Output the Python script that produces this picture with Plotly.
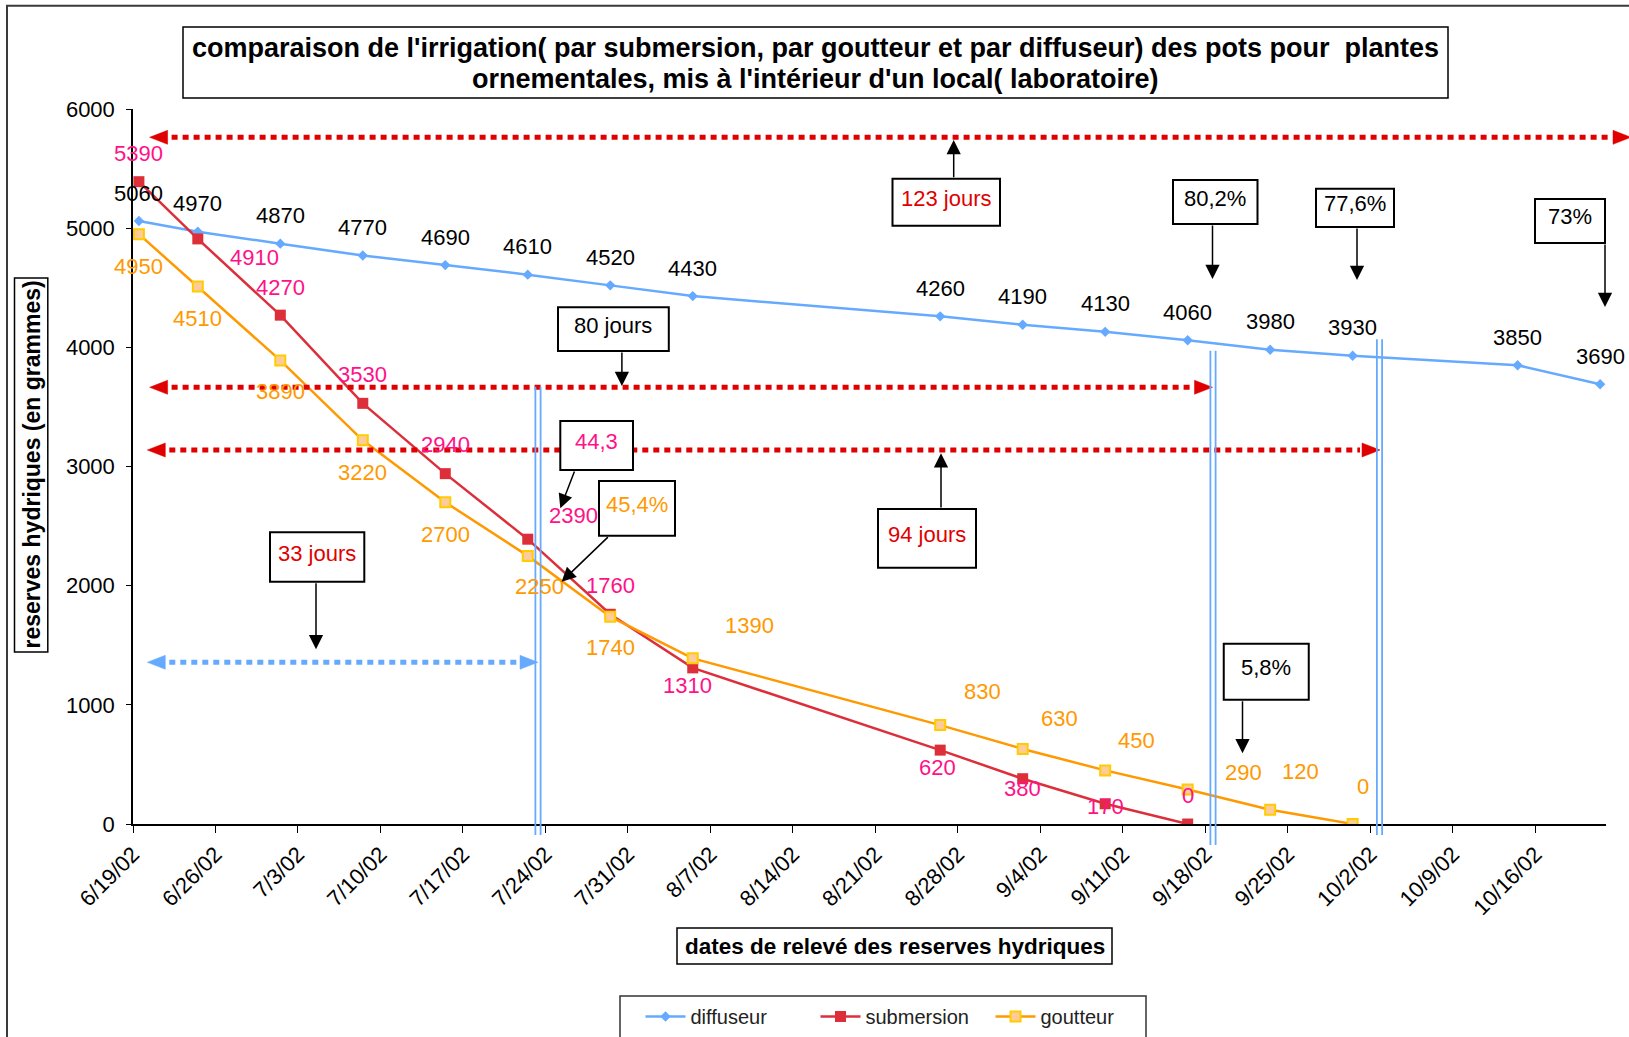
import pandas as pd
import plotly.graph_objects as go

# ---------------- data ----------------
dates_diffuseur = ["2002-06-19", "2002-06-24", "2002-07-01", "2002-07-08", "2002-07-15",
                   "2002-07-22", "2002-07-29", "2002-08-05", "2002-08-26", "2002-09-02",
                   "2002-09-09", "2002-09-16", "2002-09-23", "2002-09-30", "2002-10-14",
                   "2002-10-21"]
diffuseur = [5060, 4970, 4870, 4770, 4690, 4610, 4520, 4430, 4260, 4190, 4130, 4060,
             3980, 3930, 3850, 3690]

dates_submersion = ["2002-06-19", "2002-06-24", "2002-07-01", "2002-07-08", "2002-07-15",
                    "2002-07-22", "2002-07-29", "2002-08-05", "2002-08-26", "2002-09-02",
                    "2002-09-09", "2002-09-16"]
submersion = [5390, 4910, 4270, 3530, 2940, 2390, 1760, 1310, 620, 380, 170, 0]

dates_goutteur = ["2002-06-19", "2002-06-24", "2002-07-01", "2002-07-08", "2002-07-15",
                  "2002-07-22", "2002-07-29", "2002-08-05", "2002-08-26", "2002-09-02",
                  "2002-09-09", "2002-09-16", "2002-09-23", "2002-09-30"]
goutteur = [4950, 4510, 3890, 3220, 2700, 2250, 1740, 1390, 830, 630, 450, 290, 120, 0]

# label offsets (pixels, xshift / yshift) - placement only
off_diffuseur = [(0, 28)] * len(diffuseur)
off_submersion = [(0, 28), (57, -19), (0, 28), (0, 29), (0, 29), (46, 24), (0, 29),
                  (-5, -18), (-3, -17), (0, -10), (0, -3), (0, 29)]
off_goutteur = [(0, -32), (0, -32), (0, -31), (0, -32), (0, -32), (12, -31), (0, -31),
                (57, 33), (42, 34), (37, 30), (31, 30), (56, 17), (30, 38), (10, 38)]

title_lines = ["comparaison de l'irrigation( par submersion, par goutteur et par diffuseur) "
               "des pots pour  plantes",
               "ornementales, mis à l'intérieur d'un local( laboratoire)"]
ytitle = "reserves hydriques (en grammes)"
xtitle = "dates de relevé des reserves hydriques"

# ---------------- style ----------------
FONT = "Liberation Sans, Arial, sans-serif"
C_DIF = "#66AAFF"
C_SUB = "#DC2F3A"
C_GOU = "#FF9900"
C_PINK = "#FF1188"
C_RED = "#E00000"

FIG_W, FIG_H = 1629, 1037
M_L, M_R, M_T, M_B = 133, 23, 109, 213
PW = FIG_W - M_L - M_R
PH = FIG_H - M_T - M_B


def fx(px):
    return (px - M_L) / PW


def fy(py):
    return (M_T + PH - py) / PH


def xpos(dates):
    # Excel date axis "between tick marks": points sit mid-day
    return (pd.to_datetime(dates) + pd.Timedelta(hours=12)).strftime("%Y-%m-%d %H:%M").tolist()


x_dif = xpos(dates_diffuseur)
x_sub = xpos(dates_submersion)
x_gou = xpos(dates_goutteur)

fig = go.Figure()
fig.add_trace(go.Scatter(x=x_dif, y=diffuseur, name="diffuseur", mode="lines+markers",
                         line=dict(color=C_DIF, width=2.5),
                         marker=dict(symbol="diamond", size=8, color=C_DIF)))
fig.add_trace(go.Scatter(x=x_sub, y=submersion, name="submersion", mode="lines+markers",
                         line=dict(color=C_SUB, width=2.5),
                         marker=dict(symbol="square", size=11, color=C_SUB)))
fig.add_trace(go.Scatter(x=x_gou, y=goutteur, name="goutteur", mode="lines+markers",
                         line=dict(color=C_GOU, width=2.5),
                         marker=dict(symbol="square", size=10, color="#FFCC99",
                                     line=dict(color="#FFCC00", width=2))))

annotations = []
shapes = []

# data labels
for xs, ys, offs, col in [(x_dif, diffuseur, off_diffuseur, "black"),
                          (x_sub, submersion, off_submersion, C_PINK),
                          (x_gou, goutteur, off_goutteur, C_GOU)]:
    for xv, yv, (dx, dy) in zip(xs, ys, offs):
        annotations.append(dict(x=xv, y=yv, xref="x", yref="y", text=str(yv), showarrow=False,
                                xshift=dx, yshift=dy, font=dict(family=FONT, size=22, color=col)))

# outer chart border
shapes.append(dict(type="rect", xref="paper", yref="paper", x0=fx(7), x1=fx(1700),
                   y0=fy(5.7), y1=fy(1100), line=dict(color="#3a3a3a", width=2)))

# title box
shapes.append(dict(type="rect", xref="paper", yref="paper", x0=fx(183), x1=fx(1448),
                   y0=fy(27), y1=fy(98), line=dict(color="black", width=1.5),
                   fillcolor="white", layer="below"))
for line_txt, yc in zip(title_lines, (47.5, 78.5)):
    annotations.append(dict(x=fx(815.5), y=fy(yc), xref="paper", yref="paper", text=line_txt,
                            showarrow=False, xanchor="center", yanchor="middle",
                            font=dict(family=FONT, size=27, color="black", weight="bold")))

# axis title boxes
shapes.append(dict(type="rect", xref="paper", yref="paper", x0=fx(14.5), x1=fx(47.8),
                   y0=fy(278), y1=fy(652), line=dict(color="black", width=1.5)))
annotations.append(dict(x=fx(31.5), y=fy(465), xref="paper", yref="paper", text=ytitle,
                        textangle=-90, showarrow=False, xanchor="center", yanchor="middle",
                        font=dict(family=FONT, size=23, color="black", weight="bold")))
shapes.append(dict(type="rect", xref="paper", yref="paper", x0=fx(677), x1=fx(1112),
                   y0=fy(928), y1=fy(964), line=dict(color="black", width=1.5)))
annotations.append(dict(x=fx(894.5), y=fy(946), xref="paper", yref="paper", text=xtitle,
                        showarrow=False, xanchor="center", yanchor="middle",
                        font=dict(family=FONT, size=22.5, color="black", weight="bold")))

# legend frame
shapes.append(dict(type="rect", xref="paper", yref="paper", x0=fx(620), x1=fx(1146),
                   y0=fy(996), y1=fy(1040), line=dict(color="#333333", width=1.5)))


# dotted double arrows
def dotted_arrow(y, x_left, x_right, color):
    hl, hh = 18, 7
    shapes.append(dict(type="line", xref="paper", yref="paper",
                       x0=fx(x_left + hl + 4), x1=fx(x_right - hl - 2), y0=fy(y), y1=fy(y),
                       line=dict(color=color, width=5, dash="6px,5px")))
    for tip, base in [(x_left, x_left + hl), (x_right, x_right - hl)]:
        path = (f"M {fx(tip)},{fy(y)} L {fx(base)},{fy(y - hh)} "
                f"L {fx(base)},{fy(y + hh)} Z")
        shapes.append(dict(type="path", xref="paper", yref="paper", path=path,
                           fillcolor=color, line=dict(color=color, width=0.5)))


dotted_arrow(137.3, 149.6, 1631, C_RED)
dotted_arrow(387.3, 149.6, 1212.5, C_RED)
dotted_arrow(450, 147.3, 1380, C_RED)
dotted_arrow(662.3, 147.3, 538, C_DIF)

# vertical double lines
for xc, ytop, ybot in [(538, 386.7, 835), (1213, 350.7, 845), (1379.5, 339.3, 835)]:
    for dxl in (-2.6, 2.6):
        shapes.append(dict(type="line", xref="paper", yref="paper", x0=fx(xc + dxl),
                           x1=fx(xc + dxl), y0=fy(ytop), y1=fy(ybot),
                           line=dict(color=C_DIF, width=1.8)))

# annotation boxes with arrows: (x0, y0, x1, y1, text, color, tail(x,y), head(x,y))
boxes = [
    (892.5, 178.7, 1000, 225.7, "123 jours", C_RED, (953.7, 178.7), (953.7, 140)),
    (1173, 180, 1257.5, 224, "80,2%", "black", (1212.5, 224), (1212.5, 279)),
    (1316, 188.7, 1394, 227, "77,6%", "black", (1357, 227), (1357, 280)),
    (1535, 199, 1605, 243, "73%", "black", (1605, 243), (1605, 307)),
    (558, 307.3, 668.8, 351, "80 jours", "black", (621.9, 351), (621.9, 386)),
    (560.3, 421, 633, 470, "44,3", C_PINK, (575, 470), (560.3, 508.3)),
    (599, 481, 675, 535.7, "45,4%", C_GOU, (609.4, 535.7), (561.6, 581.7)),
    (878, 509, 976, 567.7, "94 jours", C_RED, (941, 509), (941, 453.3)),
    (270, 532.3, 364.3, 581.7, "33 jours", C_RED, (316, 581.7), (316, 649.3)),
    (1223.75, 643.7, 1308.75, 699.7, "5,8%", "black", (1242.5, 699.7), (1242.5, 753.3)),
]
for x0, y0, x1, y1, txt, col, tail, head in boxes:
    shapes.append(dict(type="rect", xref="paper", yref="paper", x0=fx(x0), x1=fx(x1),
                       y0=fy(y0), y1=fy(y1), line=dict(color="black", width=2),
                       fillcolor="white"))
    annotations.append(dict(x=fx((x0 + x1) / 2), y=fy((y0 + y1) / 2 - 4), xref="paper",
                            yref="paper", text=txt, showarrow=False, xanchor="center",
                            yanchor="middle", font=dict(family=FONT, size=22, color=col)))
    annotations.append(dict(x=fx(head[0]), y=fy(head[1]), xref="paper", yref="paper",
                            text="", showarrow=True, axref="pixel", ayref="pixel",
                            ax=tail[0] - head[0], ay=tail[1] - head[1],
                            arrowhead=2, arrowsize=1.9, arrowwidth=1.5, arrowcolor="black",
                            standoff=0, startstandoff=0, font=dict(size=1)))

fig.update_layout(
    width=FIG_W, height=FIG_H,
    margin=dict(l=M_L, r=M_R, t=M_T, b=M_B, autoexpand=False),
    paper_bgcolor="white", plot_bgcolor="white",
    font=dict(family=FONT, size=20, color="black"),
    showlegend=True,
    legend=dict(orientation="h", x=fx(903), xanchor="center", y=fy(997), yanchor="top",
                borderwidth=0, bgcolor="rgba(0,0,0,0)",
                itemwidth=40, entrywidth=120,
                font=dict(family=FONT, size=20, color="#222222")),
    xaxis=dict(type="date", range=["2002-06-19", "2002-10-22"], tick0="2002-06-19",
               dtick=7 * 86400000, tickformat="%-m/%-d/%y", tickangle=-45,
               ticks="outside", ticklen=7, tickcolor="black", showline=True,
               linecolor="black", linewidth=1.5, showgrid=False, zeroline=False,
               tickfont=dict(family=FONT, size=22, color="black"), automargin=False),
    yaxis=dict(range=[0, 6000], dtick=1000, ticks="outside", ticklen=5, tickcolor="black",
               showline=True, linecolor="black", linewidth=1.5, showgrid=False,
               zeroline=False, ticklabelstandoff=7,
               tickfont=dict(family=FONT, size=22, color="black"), automargin=False),
    shapes=shapes,
    annotations=annotations,
)

fig.write_html("out.html", config={"displayModeBar": False},
               post_script="document.body.style.margin='0px';")
